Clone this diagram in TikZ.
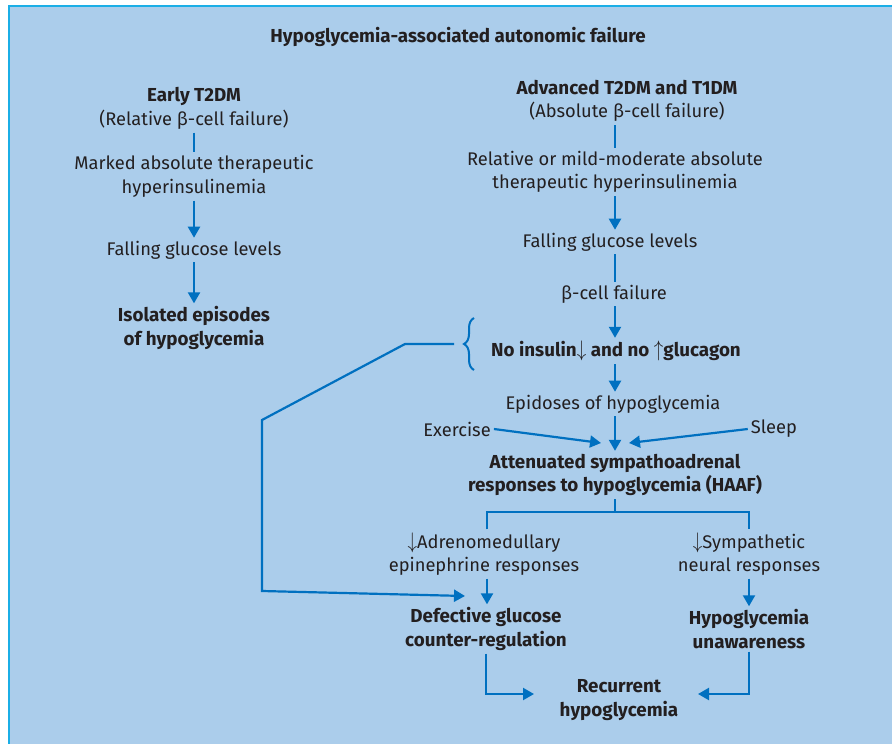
\documentclass[tikz,border=0pt]{standalone}
\usepackage{fontspec}
\setmainfont{Fira Sans}
\usetikzlibrary{arrows.meta,decorations.pathreplacing}
\definecolor{panel}{RGB}{171,205,235}
\definecolor{rule}{RGB}{27,174,230}
\definecolor{flow}{RGB}{0,112,192}
\definecolor{ink}{RGB}{35,31,32}
\newcommand{\dnarr}{\scalebox{1.1}[1.3]{$\downarrow$}}
\newcommand{\uparr}{\scalebox{1.1}[1.3]{$\uparrow$}}
\begin{document}
\begin{tikzpicture}[x=1pt,y=-1pt,
  txt/.style={text=ink,align=center,inner sep=3pt,
    font=\fontsize{18.3}{23.5}\selectfont},
  bold/.style={txt,font=\fontsize{18.8}{23.5}\selectfont\bfseries},
  link/.style={draw=flow,line width=2.2pt},
  arr/.style={link,-{Triangle[width=12pt,length=11pt]}},
]
\useasboundingbox (0,0) rectangle (892,744);
% panel and its frame
\fill[panel] (10,7) rectangle (892,744);
\draw[rule,line width=2pt] (9,744) -- (9,6) -- (892,6);

% title
\node[bold] (title) at (458,37) {Hypoglycemia-associated autonomic failure};

% left column
\node[txt] (early) at (194,108.5) {{\fontsize{18.8}{23.5}\selectfont\bfseries Early T2DM}\\(Relative β-cell failure)};
\node[txt] (marked) at (194,176.5) {Marked absolute therapeutic\\hyperinsulinemia};
\node[txt] (fallL) at (194,250) {Falling glucose levels};
\node[bold] (isol) at (194,328) {Isolated episodes\\of hypoglycemia};

% right column
\node[txt] (adv) at (627,101) {{\fontsize{18.8}{23.5}\selectfont\bfseries Advanced T2DM and T1DM}\\(Absolute β-cell failure)};
\node[txt] (rel) at (615,172) {Relative or mild-moderate absolute\\therapeutic hyperinsulinemia};
\node[txt] (fallR) at (610,242) {Falling glucose levels};
\node[txt] (beta) at (614,294) {β-cell failure};
\node[bold] (noins) at (616,351) {No insulin\dnarr\ and no \uparr glucagon};
\node[txt] (epi) at (613,404) {Epidoses of hypoglycemia};
\node[txt] (exer) at (457,429) {Exercise};
\node[txt] (sleep) at (774,429) {Sleep};
\node[bold] (haaf) at (615,475) {Attenuated sympathoadrenal\\responses to hypoglycemia (HAAF)};
\node[txt] (adren) at (484,554) {\dnarr Adrenomedullary\\epinephrine responses};
\node[txt] (symp) at (749,554) {\dnarr Sympathetic\\neural responses};
\node[bold] (defect) at (486,629) {Defective glucose\\counter-regulation};
\node[bold] (unaw) at (749,629) {Hypoglycemia\\unawareness};
\node[bold] (recur) at (619,700) {Recurrent\\hypoglycemia};

% helper points
\coordinate (bt) at (454,344);
\coordinate (dIn) at (465,596);
\coordinate (exIn) at (601,443);
\coordinate (slIn) at (629,443);
\coordinate (fk) at (615,512);
\coordinate (rL) at (534,694);
\coordinate (rR) at (698,694);

% left column links
\draw[link] (early.south) -- (marked.north);
\draw[arr] (marked.south) -- (fallL.north);
\draw[arr] (fallL.south) -- (isol.north);

% right column links
\draw[link] (adv.south -| rel.north) -- (rel.north);
\draw[arr] (rel.south) -- (rel.south |- fallR.north);
\draw[link] (rel.south |- fallR.south) -- (rel.south |- beta.north);
\draw[arr] (rel.south |- beta.south) -- (rel.south |- noins.north);
\draw[arr] (rel.south |- noins.south) -- (rel.south |- epi.north);
\draw[arr] (rel.south |- epi.south) -- (haaf.north);
\draw[arr] (exer.east) -- (exIn);
\draw[arr] (sleep.west) -- (slIn);

% brace and feedback loop
\draw[flow,line width=2pt,decorate,decoration={brace,amplitude=10pt,aspect=0.5}]
  (474,370) -- (474,318);
\draw[arr] (bt) -- (405,344) -- (262,420) -- (262,591) -- (dIn);

% fork below HAAF
\draw[link] (haaf.south) -- (fk);
\draw[link] (adren.north -| 487,0) |- (fk) -| (symp.north);
\draw[arr] (adren.south -| 487,0) -- (defect.north -| 487,0);
\draw[arr] (symp.south) -- (unaw.north);

% into recurrent hypoglycemia
\draw[arr] (defect.south) |- (rL);
\draw[arr] (unaw.south) |- (rR);
\end{tikzpicture}
\end{document}
